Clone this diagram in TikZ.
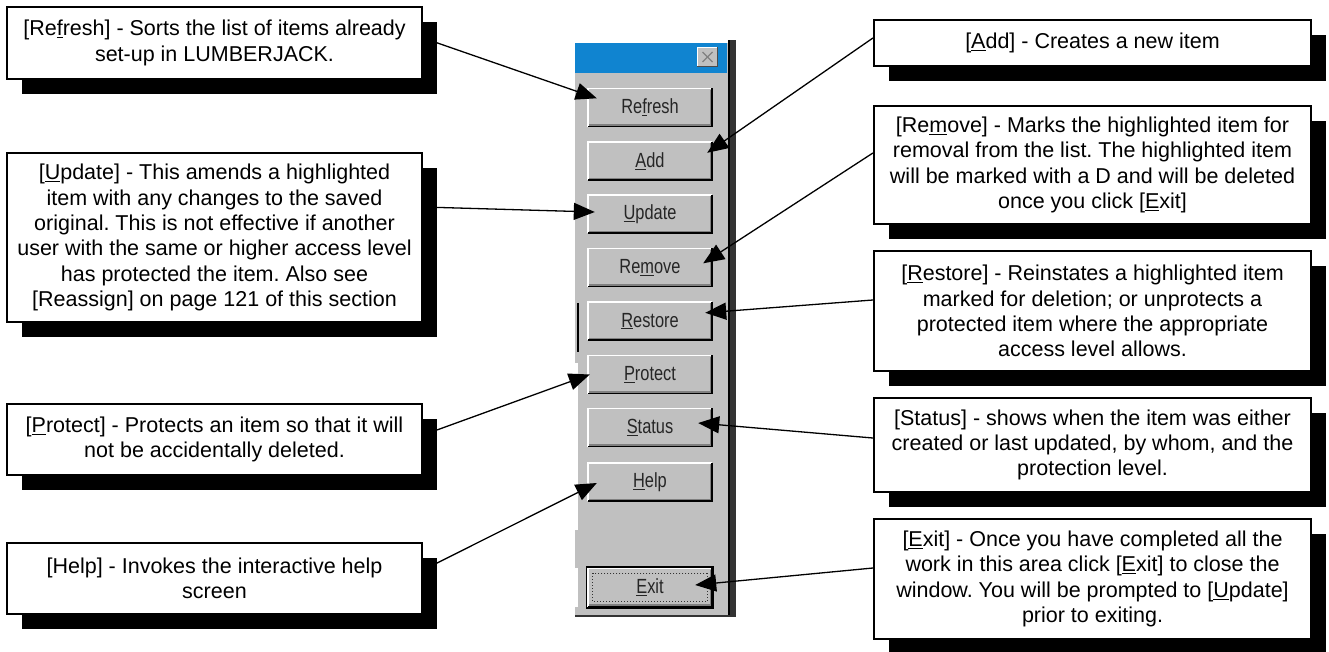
\documentclass[tikz,border=0pt]{standalone}
\usepackage{fontspec}
\setmainfont{Liberation Sans}
\newfontfamily\btnfont[FakeStretch=0.8]{Liberation Sans}
\usetikzlibrary{arrows.meta,shadows}
\definecolor{wingray}{HTML}{C0C0C0}
\definecolor{windark}{HTML}{808080}
\definecolor{titleblue}{HTML}{1084D0}
\newcommand{\mn}[1]{\underline{#1}}
\frenchspacing
\begin{document}
\frenchspacing
\begin{tikzpicture}[x=1pt,y=-1pt,
  callout/.style={draw=black, line width=2.2pt, fill=white, inner sep=0pt, align=center,
    font=\frenchspacing\fontsize{21.5}{25.3}\selectfont,
    drop shadow={shadow xshift=15pt, shadow yshift=-15pt, fill=black, opacity=1}},
  leftbox/.style={callout, minimum width=415pt},
  rightbox/.style={callout, minimum width=437pt},
  btn/.style={fill=wingray, minimum width=124pt, minimum height=38pt, inner sep=0pt,
    font=\btnfont\fontsize{20.5}{21}\selectfont, text=black!85},
  callarrow/.style={line width=1.3pt, -{Triangle[length=21pt,width=17pt]}}
]
\useasboundingbox (0,0) rectangle (1329,651);

% ---------- window panel ----------
\fill[wingray] (575,43) rectangle (728,617);
\fill[titleblue] (575,43) rectangle (727,73);
\fill[black!80] (728,40) rectangle (736,617);
\draw[black, line width=2pt] (729,40) -- (729,617);
\draw[black!80, line width=1.5pt] (575,616) -- (730,616);
\fill[white] (575,363) rectangle (578,530);
\fill[white] (575,568) rectangle (578,607);
\draw[black, line width=1.5pt] (578,303) -- (578,352);

% close button
\node[fill=wingray, minimum width=20pt, minimum height=19pt, inner sep=0pt] (bClose) at (707.5,57) {};
\draw[white, line width=1.2pt] (bClose.south west) -- (bClose.north west) -- (bClose.north east);
\draw[black!70, line width=1.2pt] (bClose.north east) -- (bClose.south east) -- (bClose.south west);
\draw[windark, line width=1.3pt] ([shift={(-5,-5)}]bClose.center) -- ([shift={(5,5)}]bClose.center);
\draw[windark, line width=1.3pt] ([shift={(-5,5)}]bClose.center) -- ([shift={(5,-5)}]bClose.center);

% buttons
\foreach \n/\y/\t in {Refresh/107.5/Re\mn{f}resh, Add/161/\mn{A}dd, Update/214/\mn{U}pdate,
    Remove/267.5/Re\mn{m}ove, Restore/321/\mn{R}estore, Protect/374.5/\mn{P}rotect,
    Status/427.5/\mn{S}tatus, Help/482/\mn{H}elp, Exit/587.5/\mn{E}xit}{
  \node[btn] (b\n) at (650,\y) {\t};
  \draw[white, line width=1.5pt] (b\n.south west) -- (b\n.north west) -- (b\n.north east);
  \draw[black, line width=1.5pt] (b\n.north east) -- (b\n.south east) -- (b\n.south west);
  \draw[windark, line width=1.5pt] ([shift={(-1.5,1.5)}]b\n.north east) -- ([shift={(-1.5,-1.5)}]b\n.south east) -- ([shift={(1.5,-1.5)}]b\n.south west);
}
\draw[black, line width=1.5pt] ([shift={(-1.5,-1.5)}]bExit.north west) rectangle ([shift={(1.5,1.5)}]bExit.south east);
\draw[black!80, dotted, line width=1pt] ([shift={(5,5)}]bExit.north west) rectangle ([shift={(-5,-5)}]bExit.south east);

% ---------- callout boxes ----------
\node[leftbox, minimum height=72pt] (refresh) at (214.5,43)
  {[Re\mn{f}resh] - Sorts the list of items already\\ set-up in LUMBERJACK.};
\node[leftbox, minimum height=169pt] (update) at (214.5,237.5)
  {[\mn{U}pdate] - This amends a highlighted\\ item with any changes to the saved\\ original. This is not effective if another\\ user with the same or higher access level\\ has protected the item. Also see\\{}[Reassign] on page 121 of this section};
\node[leftbox, minimum height=71pt] (protect) at (214.5,439.5)
  {[\mn{P}rotect] - Protects an item so that it will\\ not be accidentally deleted.};
\node[leftbox, minimum height=71pt] (help) at (214.5,578.5)
  {[Help] - Invokes the interactive help\\ screen};

\node[rightbox, minimum height=46pt] (add) at (1092.5,43)
  {[\mn{A}dd] - Creates a new item};
\node[rightbox, minimum height=118pt] (remove) at (1092.5,165)
  {[Re\mn{m}ove] - Marks the highlighted item for\\ removal from the list. The highlighted item\\ will be marked with a D and will be deleted\\ once you click [\mn{E}xit]};
\node[rightbox, minimum height=120pt] (restore) at (1092.5,311)
  {[\mn{R}estore] - Reinstates a highlighted item\\ marked for deletion; or unprotects a\\ protected item where the appropriate\\ access level allows.};
\node[rightbox, minimum height=94pt] (status) at (1092.5,445)
  {[Status] - shows when the item was either\\ created or last updated, by whom, and the\\ protection level.};
\node[rightbox, minimum height=120pt] (exitbox) at (1092.5,579)
  {[\mn{E}xit] - Once you have completed all the\\ work in this area click [\mn{E}xit] to close the\\ window. You will be prompted to [\mn{U}pdate]\\ prior to exiting.};

% ---------- connectors ----------
\draw[callarrow] ([shift={(0,-5)}]refresh.east) -- ([shift={(9,10)}]bRefresh.north west);
\draw[callarrow] ([shift={(0,-30.5)}]update.east) -- ([shift={(7,-2)}]bUpdate.west);
\draw[callarrow] ([shift={(0,-4.5)}]protect.east) -- ([shift={(2,0)}]bProtect.west);
\draw[callarrow] ([shift={(0,-8.5)}]help.east) -- ([shift={(9,1)}]bHelp.west);
\draw[callarrow] ([shift={(0,-5)}]add.west) -- ([shift={(-5,11)}]bAdd.north east);
\draw[callarrow] ([shift={(0,-12)}]remove.west) -- ([shift={(-9,15)}]bRemove.north east);
\draw[callarrow] ([shift={(0,-11)}]restore.west) -- ([shift={(-7,11)}]bRestore.north east);
\draw[callarrow] ([shift={(0,-7)}]status.west) -- ([shift={(-14,-4.5)}]bStatus.east);
\draw[callarrow] ([shift={(0,-11)}]exitbox.west) -- ([shift={(-17,-2.5)}]bExit.east);
\end{tikzpicture}
\end{document}
